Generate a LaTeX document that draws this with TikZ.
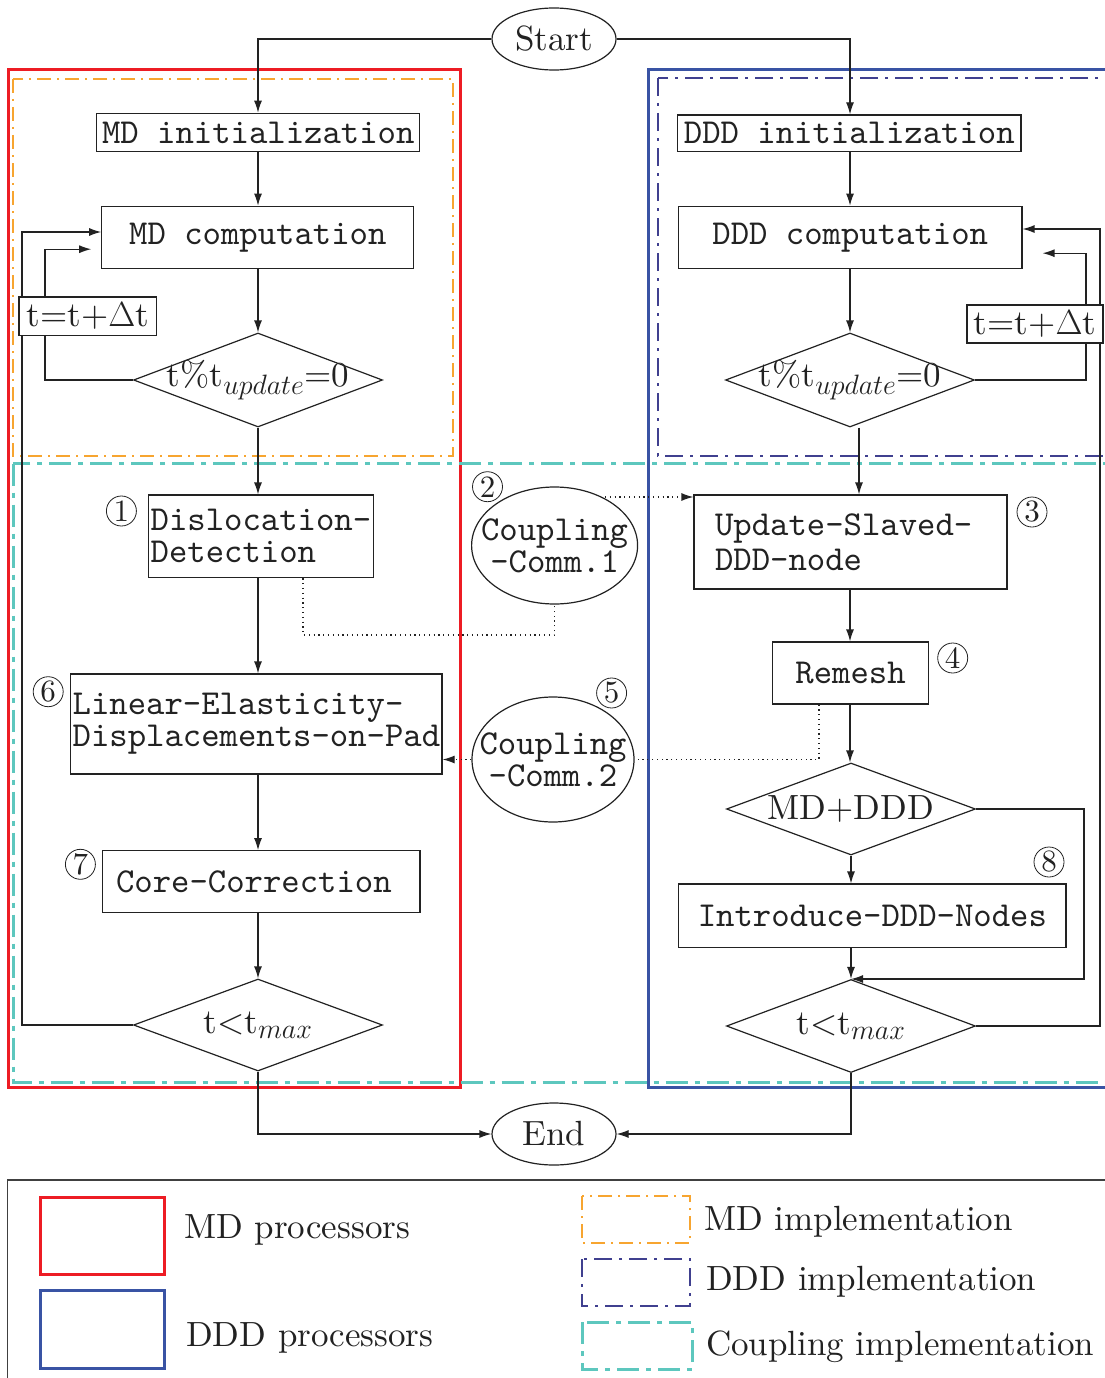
\RequirePackage{fix-cm}
\documentclass[tikz,border=0pt]{standalone}
\usepackage[no-math]{fontspec}
\setmainfont{lmroman10-regular.otf}[ItalicFont=lmroman10-italic.otf,BoldFont=lmroman10-bold.otf]
\setmonofont{lmmono10-regular.otf}
\usetikzlibrary{shapes.geometric,arrows.meta,calc}
\DeclareMathSizes{35}{35}{28}{20}
\pgfdeclarelayer{bg}
\pgfsetlayers{bg,main}
\definecolor{mdred}{HTML}{ED1C24}
\definecolor{dddblue}{HTML}{3953A4}
\definecolor{mdorange}{HTML}{F7A530}
\definecolor{dddnavy}{HTML}{40408F}
\definecolor{cteal}{HTML}{5DC7BE}
\definecolor{ink}{HTML}{222222}
\newcommand{\bigrm}{\fontsize{35}{40}\selectfont\rmfamily}
\newcommand{\bigtt}{\fontsize{35}{32}\selectfont\ttfamily}
\tikzset{
  box/.style={draw=ink, text=ink, line width=1.2pt, fill=white, inner sep=0pt, font=\bigtt, align=center},
  dia/.style={diamond, draw=ink, text=ink, line width=1.2pt, fill=white, inner sep=0pt, minimum width=249pt, minimum height=94pt, font=\bigrm},
  ell/.style={ellipse, draw=ink, text=ink, line width=1.2pt, fill=white, inner sep=0pt},
  cnum/.style={circle, draw=ink, text=ink, line width=0.8pt, inner sep=0pt, minimum size=30pt, font=\fontsize{31}{31}\selectfont\rmfamily},
  ln/.style={draw=ink, line width=1.2pt},
  arr/.style={draw=ink, line width=1.2pt, -{Latex[length=12pt,width=8pt]}},
  dot/.style={draw=ink, line width=1.2pt, dash pattern=on 1.2pt off 3.6pt},
  dotarr/.style={dot, -{Latex[length=12pt,width=8pt]}},
  lgt/.style={anchor=base west, inner sep=0pt, text=ink, font=\bigrm},
  orangedd/.style={draw=mdorange, line width=1.5pt, dash pattern=on 14pt off 6pt on 2pt off 6pt},
  navydd/.style={draw=dddnavy, line width=1.8pt, dash pattern=on 18pt off 7pt on 3pt off 7pt},
  tealdd/.style={draw=cteal, line width=3pt, dash pattern=on 22pt off 7pt on 5pt off 7pt},
}
\begin{document}
\begin{tikzpicture}[x=1pt,y=-1pt]
\useasboundingbox (0,0) rectangle (1104,1378);

% helper coordinates
\coordinate (colL) at (258,0);
\coordinate (colR) at (850,0);
\coordinate (lx) at (45,0);
\coordinate (rx) at (1086,0);
\coordinate (ox) at (22,232);
\coordinate (orx) at (1100,229);
\coordinate (mj) at (1084,979);
\coordinate (d1) at (303,635);
\coordinate (x819) at (819,0);
\coordinate (c1s) at (605,497);

% terminals
\node[ell, minimum width=124pt, minimum height=62pt, font=\bigrm] (start) at (554,39) {Start};
\node[ell, minimum width=124pt, minimum height=62pt, font=\bigrm] (end) at (554,1134) {End};

% MD column
\node[box, minimum width=323pt, minimum height=38.5pt] (mdinit) at (258.3,132.5) {MD initialization};
\node[box, minimum width=312pt, minimum height=62pt] (mdcomp) at (257.8,237.2) {MD computation};
\node[dia] (mddia) at (258,380) {\makebox[0pt]{t\%t$_{update}$=0}};
\node[box, font=\bigrm, minimum width=137.7pt, minimum height=38.7pt] (tl) at (87.8,316.3) {t=t+$\Delta$t};
\node[box, align=left, minimum width=225.4pt, minimum height=82.7pt] (disl) at (260.9,536.4) {Dislocation-\\Detection};
\node[box, align=left, minimum width=371.3pt, minimum height=100pt] (lin) at (256.4,724) {Linear-Elasticity-\\Displacements-on-Pad};
\node[box, text width=290.5pt, inner xsep=13.5pt, align=left, minimum height=62pt] (core) at (261.25,881.7) {Core-Correction};
\node[dia, minimum height=92pt] (mdtmax) at (258,1025) {\makebox[0pt]{t\textless t$_{max}$}};

% DDD column
\node[box, minimum width=343.3pt, minimum height=36.7pt] (dddinit) at (849.3,133.3) {DDD initialization};
\node[box, minimum width=343.3pt, minimum height=62pt] (dddcomp) at (850.3,237.2) {DDD computation};
\node[dia] (ddddia) at (850,380) {\makebox[0pt]{t\%t$_{update}$=0}};
\node[box, font=\bigrm, minimum width=136pt, minimum height=38pt] (tr) at (1035,324) {t=t+$\Delta$t};
\node[box, text width=271pt, inner xsep=21pt, align=left, minimum height=94pt, font=\fontsize{35}{35}\selectfont\ttfamily] (upd) at (850.5,542) {Update-Slaved-\\DDD-node};
\node[box, minimum width=156pt, minimum height=62pt] (remesh) at (850.6,673) {Remesh};
\node[dia, minimum height=92pt] (mixdia) at (851,809) {\makebox[0pt]{MD+DDD}};
\node[box, minimum width=387.3pt, minimum height=63.7pt] (intro) at (872.4,915.9) {Introduce-DDD-Nodes};
\node[dia, minimum height=93pt] (dddtmax) at (851,1026) {\makebox[0pt]{t\textless t$_{max}$}};

% coupling ellipses
\node[ell, minimum width=166pt, minimum height=117pt, inner xsep=-25pt, font=\fontsize{35}{32}\selectfont\ttfamily, align=center] (cc1) at (554.6,545.5) {Coupling\\-Comm.1};
\node[ell, minimum width=162pt, minimum height=125pt, inner xsep=-25pt, font=\fontsize{35}{32}\selectfont\ttfamily, align=center] (cc2) at (553,759.5) {Coupling\\-Comm.2};

% step numbers
\node[cnum] (n1) at (121.4,511) {1};
\node[cnum] (n2) at (487.5,486.7) {2};
\node[cnum] (n3) at (1032,512) {3};
\node[cnum] (n4) at (952.7,658) {4};
\node[cnum] (n5) at (611.6,693) {5};
\node[cnum] (n6) at (48.2,691.7) {6};
\node[cnum] (n7) at (80.4,864.3) {7};
\node[cnum] (n8) at (1049,862) {8};

% connectors, MD side
\draw[arr] (start.west) -| (colL |- mdinit.north);
\draw[arr] (colL |- mdinit.south) -- (colL |- mdcomp.north);
\draw[arr] (colL |- mdcomp.south) -- (mddia.north);
\draw[ln] (mddia.west) -| (lx |- tl.south);
\draw[arr] (lx |- tl.north) |- ($(mdcomp.west)+(-10,12)$);
\draw[arr] (mddia.south) -- (colL |- disl.north);
\draw[arr] (colL |- disl.south) -- (colL |- lin.north);
\draw[arr] (colL |- lin.south) -- (colL |- core.north);
\draw[arr] (colL |- core.south) -- (mdtmax.north);
\draw[arr] (mdtmax.south) |- (end.west);

% connectors, DDD side
\draw[arr] (start.east) -| (colR |- dddinit.north);
\draw[arr] (colR |- dddinit.south) -- (colR |- dddcomp.north);
\draw[arr] (colR |- dddcomp.south) -- (ddddia.north);
\draw[ln] (ddddia.east) -| (rx |- tr.south);
\draw[arr] (rx |- tr.north) |- ($(dddcomp.east)+(20,16)$);
\coordinate (dd9) at ([xshift=9pt]ddddia.south);
\draw[arr] (dd9) -- (dd9 |- upd.north);
\draw[arr] (colR |- upd.south) -- (colR |- remesh.north);
\draw[arr] (colR |- remesh.south) -- (colR |- mixdia.north);
\draw[arr] (mixdia.south) -- (mixdia.south |- intro.north);
\draw[arr] (dddtmax.north |- intro.south) -- (dddtmax.north);
\draw[arr] (mixdia.east) -| (mj) -- (mj -| dddtmax.north);
\draw[arr] (dddtmax.south) |- (end.east);

% coupling communication (dotted)
\draw[dot] (d1 |- disl.south) -- (d1) -| (cc1.south);
\draw[dotarr] (c1s) -- (c1s -| upd.west);
\draw[dot] (x819 |- remesh.south) |- (cc2.east);
\draw[dotarr] (cc2.west) -- (cc2.west -| lin.east);

% background: frames and the long loops
\begin{pgfonlayer}{bg}
\fill[white] (0,0) rectangle (1104,1378);
\draw[mdred, line width=3pt] (8,70) rectangle (460,1087);
\draw[dddblue, line width=3pt] (648,69.5) rectangle (1125,1087);
\draw[orangedd] (13,79) rectangle (453,456);
\draw[navydd] (658,78) rectangle (1125,456);
\draw[tealdd] (13,463.5) rectangle (1125,1082);
\draw[arr] (mdtmax.west) -| (ox) -- (ox -| mdcomp.west);
\draw[arr] (dddtmax.east) -| (orx) -- (orx -| dddcomp.east);
\end{pgfonlayer}

% legend
\draw[black!75, line width=1.2pt] (1125,1180) -- (7.5,1180) -- (7.5,1395);
\draw[mdred, line width=3pt] (40,1197) rectangle (164,1274);
\draw[dddblue, line width=3pt] (40,1290) rectangle (164,1368);
\draw[orangedd] (582,1196) rectangle (690,1243);
\draw[navydd] (582,1259) rectangle (690,1306);
\draw[tealdd] (582,1322) rectangle (692,1369);
\node[lgt] (l1) at (184,1238) {MD processors};
\node[lgt] (l2) at (186,1346.7) {DDD processors};
\node[lgt] (l3) at (704,1230) {MD implementation};
\node[lgt] (l4) at (706,1290.7) {DDD implementation};
\node[lgt] (l5) at (706,1355) {Coupling implementation};
\end{tikzpicture}
\end{document}
